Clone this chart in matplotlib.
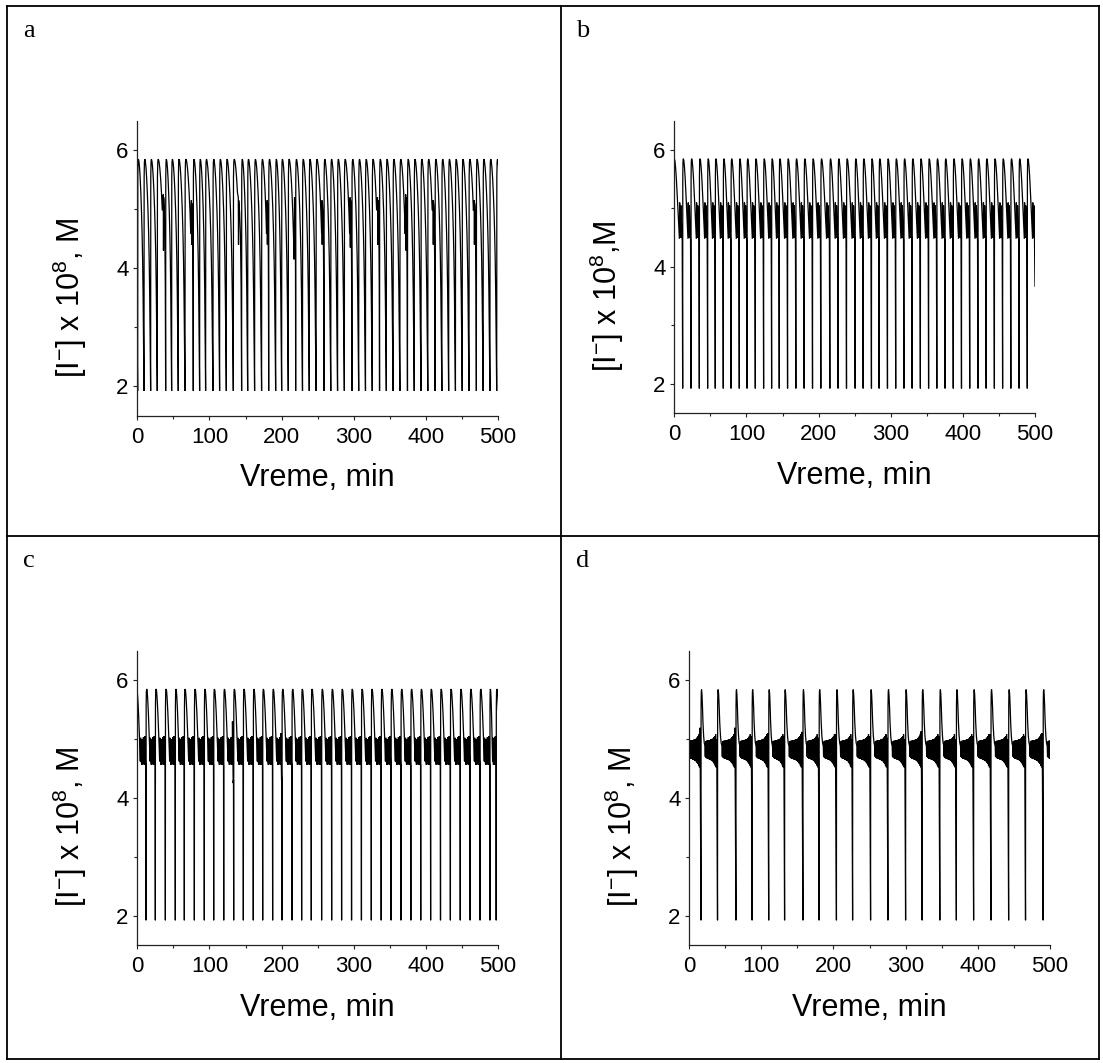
import matplotlib
matplotlib.use("Agg")
import matplotlib.pyplot as plt
from matplotlib.lines import Line2D
from matplotlib.ticker import MultipleLocator

plt.rcParams['font.family'] = ['Liberation Sans', 'DejaVu Sans']
plt.rcParams['mathtext.fontset'] = 'custom'
plt.rcParams['mathtext.rm'] = 'Liberation Sans'
plt.rcParams['mathtext.it'] = 'Liberation Sans:italic'
plt.rcParams['mathtext.bf'] = 'Liberation Sans:bold'

# ---------------- data ----------------
panel_letters = ['a', 'b', 'c', 'd']
xlabel_text = 'Vreme, min'
ylabel_texts = ['[I$^{-}$] x 10$^{\\mathrm{8}}$, M', '[I$^{-}$] x 10$^{\\mathrm{8}}$,M',
                '[I$^{-}$] x 10$^{\\mathrm{8}}$, M', '[I$^{-}$] x 10$^{\\mathrm{8}}$, M']
x_ticks = [0, 100, 200, 300, 400, 500]
y_ticks = [2, 4, 6]

trough_level = 1.92

# times (min) of the deep spikes (trough -> sharp rise); first/last lie outside 0..500
a_troughs = [-8.8, 0.5, 9.3, 18.5, 27.7, 39.3, 47.6, 56.8, 66.1, 77.6, 86.4, 94.7, 104.9,
             114.1, 123.4, 133.1, 144.6, 153.0, 162.6, 172.3, 182.1, 191.8, 200.1, 209.3,
             219.5, 229.0, 238.4, 247.8, 258.8, 268.2, 277.6, 287.0, 297.5, 306.9, 316.3,
             325.7, 335.8, 345.2, 354.6, 364.0, 374.5, 383.9, 393.3, 402.7, 412.8, 422.2,
             431.6, 441.0, 450.4, 459.8, 470.0, 479.4, 488.8, 498.2, 507.6]
# small intermediate spikes in panel a: time, top, bottom
a_extra_t = [36, 75, 140, 180, 218, 256, 295, 333, 372, 410, 467]
a_extra_top = [5.25, 5.15, 5.2, 5.15, 5.2, 5.15, 5.2, 5.2, 5.25, 5.15, 5.15]
a_extra_low = [4.3, 4.4, 4.4, 4.4, 4.35, 4.4, 4.35, 4.4, 4.3, 4.4, 4.4]

b_troughs = [-1.0, 11.6, 23.1, 34.7, 46.2, 56.8, 67.9, 78.6, 90.1, 100.8, 112.3, 123.8,
             134.9, 145.5, 157.0, 168.5, 180.0, 191.6, 203.1, 215.6, 227.1, 238.7, 250.7,
             261.8, 273.3, 283.9, 295.5, 306.9, 318.3, 329.7, 341.1, 352.5, 363.9, 375.3,
             386.7, 398.1, 409.5, 420.9, 432.3, 443.7, 455.1, 466.5, 477.9, 489.3, 500.7]
b_last_t, b_last_v = 500.0, 3.67     # final recorded point of panel b

c_troughs = [-1.8, 12.1, 25.0, 38.9, 52.7, 65.2, 79.1, 92.9, 105.9, 119.8, 133.6, 147.0,
             160.8, 173.8, 187.6, 200.6, 214.4, 227.8, 241.2, 255.5, 269.4, 283.2, 297.0,
             310.7, 324.4, 338.1, 351.8, 365.5, 379.2, 392.9, 406.6, 420.3, 434.0, 447.7,
             461.4, 475.1, 488.8, 497.5, 511.2]
c_dip_troughs = [133.6, 200.6]
c_dip_top = [5.3, 5.1]
c_dip_low = [4.25, 4.3]

d_troughs = [-7.0, 16.6, 39.5, 65.0, 87.4, 110.4, 132.4, 157.8, 180.2, 204.2, 226.6,
             251.5, 275.5, 300.0, 322.9, 347.4, 370.3, 394.2, 418.2, 442.7, 466.1, 490.5, 514.0]
d_end_top = [5.19, 5.0, 5.19, 5.05, 5.1, 5.05, 5.12, 5.02, 5.08, 5.0, 5.05, 5.02, 5.0,
             5.13, 5.05, 5.0, 5.05, 5.08, 5.0, 5.05, 5.1]
d_end_low = [4.38, 4.6, 4.34, 4.55, 4.63, 4.53, 4.5, 4.66, 4.43, 4.63, 4.55, 4.6, 4.66,
             4.4, 4.57, 4.55, 4.43, 4.52, 4.6, 4.55, 4.37]

# waveform of one cycle (fraction of the cycle, value)
a_u = [0.00, 0.02, 0.06, 0.12, 0.20, 0.30, 0.40, 0.50, 0.60, 0.70, 0.78, 0.85, 0.91, 0.96]
a_v = [1.92, 5.55, 5.80, 5.85, 5.81, 5.70, 5.52, 5.28, 4.98, 4.58, 4.15, 3.60, 2.90, 2.20]
a_tail_k = [0.30, 0.60, 0.82, 0.95]
a_tail_v = [4.95, 4.55, 3.70, 2.50]

b_u = [0.00, 0.015, 0.04, 0.08, 0.14, 0.22, 0.30, 0.38, 0.46, 0.54, 0.60, 0.64, 0.67,
       0.70, 0.74, 0.78, 0.81, 0.85, 0.90, 0.95]
b_v = [1.92, 5.55, 5.80, 5.85, 5.82, 5.70, 5.52, 5.30, 5.05, 4.78, 4.55, 4.48, 5.10,
       4.95, 4.62, 4.50, 5.05, 4.80, 4.55, 4.46]

c_u = [0.00, 0.012, 0.035, 0.07, 0.12, 0.18, 0.25, 0.32, 0.38, 0.43, 0.46, 0.49, 0.53,
       0.57, 0.60, 0.63, 0.67, 0.71, 0.74, 0.77, 0.81, 0.85, 0.88, 0.91, 0.95, 0.98]
c_v = [1.92, 5.55, 5.80, 5.85, 5.82, 5.68, 5.45, 5.15, 4.88, 4.62, 5.02, 4.80, 4.62,
       4.56, 5.00, 4.78, 4.62, 4.57, 5.03, 4.80, 4.62, 4.56, 5.05, 4.80, 4.60, 4.55]

d_u = [0.00, 0.006, 0.018, 0.035, 0.06, 0.09, 0.12, 0.16, 0.20, 0.24, 0.26, 0.285,
       0.31, 0.335, 0.36, 0.385, 0.41, 0.435, 0.46, 0.485, 0.51, 0.535, 0.56, 0.585,
       0.61, 0.635, 0.66, 0.685, 0.71, 0.735, 0.76, 0.785, 0.81, 0.835, 0.86, 0.885,
       0.91, 0.935, 0.96]
d_v = [1.92, 5.55, 5.80, 5.84, 5.76, 5.55, 5.28, 5.05, 4.93, 4.88, 4.70, 4.96, 4.68,
       4.97, 4.67, 4.97, 4.66, 4.98, 4.66, 4.98, 4.65, 4.98, 4.65, 4.99, 4.64, 5.00,
       4.63, 5.00, 4.62, 5.01, 4.60, 5.03, 4.58, 5.05, 4.55, 5.08, 4.52, 5.12, 4.42]


# ---------------- build the traces ----------------
def trace_a():
    t, y = [], []
    for T0, T1 in zip(a_troughs[:-1], a_troughs[1:]):
        P = T1 - T0
        ex = [i for i, te in enumerate(a_extra_t) if T0 < te < T1]
        if not ex:
            for uu, vv in zip(a_u, a_v):
                t.append(T0 + uu * P); y.append(vv)
        else:
            i = ex[0]
            te, top, low = a_extra_t[i], a_extra_top[i], a_extra_low[i]
            for uu, vv in zip(a_u, a_v):
                if T0 + uu * P < te - 0.4:
                    t.append(T0 + uu * P); y.append(vv)
            t += [te, te + 0.3, te + 0.6]; y += [top, low, top - 0.05]
            s = te + 0.6
            for kk, vv in zip(a_tail_k, a_tail_v):
                t.append(s + kk * (T1 - s)); y.append(vv)
    t.append(a_troughs[-1]); y.append(trough_level)
    return t, y


def trace_simple(troughs, u, v):
    t, y = [], []
    for T0, T1 in zip(troughs[:-1], troughs[1:]):
        P = T1 - T0
        for uu, vv in zip(u, v):
            t.append(T0 + uu * P); y.append(vv)
    t.append(troughs[-1]); y.append(trough_level)
    return t, y


def trace_b():
    t, y = trace_simple(b_troughs, b_u, b_v)
    keep = [(tt, yy) for tt, yy in zip(t, y) if tt < b_last_t - 0.6]
    t = [p[0] for p in keep] + [b_last_t]
    y = [p[1] for p in keep] + [b_last_v]
    return t, y


def trace_c():
    t, y = [], []
    for T0, T1 in zip(c_troughs[:-1], c_troughs[1:]):
        P = T1 - T0
        vv = list(c_v)
        if T1 in c_dip_troughs:
            j = c_dip_troughs.index(T1)
            vv[-4] = c_dip_top[j]; vv[-2] = c_dip_low[j]; vv[-1] = c_dip_low[j] + 0.05
        for uu, val in zip(c_u, vv):
            t.append(T0 + uu * P); y.append(val)
    t.append(c_troughs[-1]); y.append(trough_level)
    return t, y


def trace_d():
    t, y = [], []
    for k, (T0, T1) in enumerate(zip(d_troughs[:-1], d_troughs[1:])):
        P = T1 - T0
        vv = list(d_v)
        if k < len(d_end_top):
            vv[-2] = d_end_top[k]; vv[-1] = d_end_low[k]
        for uu, val in zip(d_u, vv):
            t.append(T0 + uu * P); y.append(val)
    t.append(d_troughs[-1]); y.append(trough_level)
    return t, y


traces = [trace_a(), trace_b(), trace_c(), trace_d()]

# ---------------- figure ----------------
W, H = 1103, 1063
fig = plt.figure(figsize=(W / 100, H / 100), dpi=100)

# axes rectangles in pixels: left, top, right, bottom
rects = [(137.3, 120.7, 498.0, 415.7), (674.3, 120.7, 1035.0, 413.0),
         (137.3, 650.7, 498.0, 945.0), (689.0, 650.7, 1050.0, 945.0)]

def fx(x): return x / W
def fy(y): return 1 - y / H

for i, (l, tp, r, b) in enumerate(rects):
    ax = fig.add_axes([fx(l), fy(b), (r - l) / W, (b - tp) / H])
    t, y = traces[i]
    ax.plot(t, y, color='black', lw=0.9, solid_joinstyle='miter')
    ax.set_xlim(0, 500)
    ax.set_ylim(1.5, 6.5)
    ax.spines['top'].set_visible(False)
    ax.spines['right'].set_visible(False)
    for s in ('left', 'bottom'):
        ax.spines[s].set_linewidth(0.9)
        ax.spines[s].set_color('#222222')
    ax.set_xticks(x_ticks)
    ax.set_yticks(y_ticks)
    ax.xaxis.set_minor_locator(MultipleLocator(50))
    ax.yaxis.set_minor_locator(MultipleLocator(1))
    ax.tick_params(which='both', direction='out', width=0.8, color='#222222')
    ax.tick_params(which='major', length=3.2, labelsize=16)
    ax.tick_params(which='minor', length=2.0)
    ax.tick_params(axis='x', pad=5)
    ax.tick_params(axis='y', pad=3)
    ax.set_xlabel(xlabel_text, fontsize=22, labelpad=11)
    ax.set_ylabel(ylabel_texts[i], fontsize=22)
    ax.yaxis.set_label_coords(-0.133, 0.40)

# panel letters
letter_pos = [(23, 37), (576, 37), (23, 567), (576, 567)]
for ch, (x, y) in zip(panel_letters, letter_pos):
    fig.text(fx(x), fy(y), ch, fontsize=19, family='Liberation Serif', va='baseline', ha='left')

# table borders
lw = 1.3
left, right, top, bottom = 7, 1099, 6, 1059
vmid, hmid = 560.5, 535.5
segs = [((left, top), (right, top)), ((left, bottom), (right, bottom)),
        ((left, top), (left, bottom)), ((right, top), (right, bottom)),
        ((vmid, top), (vmid, bottom)), ((left, hmid), (right, hmid))]
for (x0, y0), (x1, y1) in segs:
    fig.add_artist(Line2D([fx(x0), fx(x1)], [fy(y0), fy(y1)], transform=fig.transFigure,
                          color='black', lw=lw, solid_capstyle='projecting'))

fig.savefig('out.png', dpi=100)
